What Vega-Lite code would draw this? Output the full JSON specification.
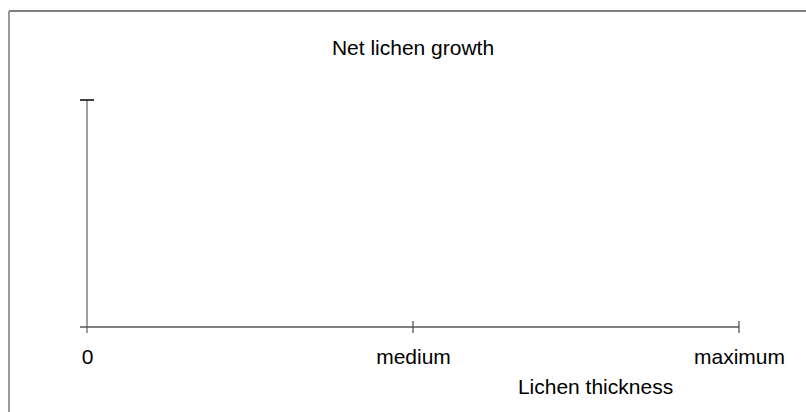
{
  "$schema": "https://vega.github.io/schema/vega-lite/v6.json",
  "width": 652,
  "height": 227,
  "autosize": "none",
  "padding": {"left": 87, "top": 100, "right": 67, "bottom": 85},
  "background": "white",
  "config": {"view": {"stroke": null}, "font": "Liberation Sans"},
  "title": {"text": "Net lichen growth", "anchor": "middle", "frame": "group", "fontSize": 21, "fontWeight": "normal", "font": "Liberation Sans", "color": "black", "baseline": "alphabetic", "offset": 0, "dy": 66},
  "datasets": {
    "parts": [
      {"part": "y axis", "x": 0, "x2": 0, "y": 0, "y2": 1},
      {"part": "x axis", "x": -0.0215, "x2": 2, "y": 0, "y2": 0},
      {"part": "tick zero", "x": 0, "x2": 0, "y": 0, "y2": -0.0264},
      {"part": "tick", "x": 1, "x2": 1, "y": 0.0264, "y2": -0.0264},
      {"part": "tick", "x": 2, "x2": 2, "y": 0.0264, "y2": -0.0264},
      {"part": "top tick", "x": -0.0215, "x2": 0.0215, "y": 1, "y2": 1},
      {"part": "frame top", "x": -0.2393, "x2": 2.21, "y": 1.392, "y2": 1.392},
      {"part": "frame left", "x": -0.2393, "x2": -0.2393, "y": 1.392, "y2": -0.4}
    ]
  },
  "data": {"name": "parts"},
  "encoding": {
    "x": {"field": "x", "type": "quantitative", "scale": {"domain": [0, 2], "nice": false, "zero": false},
      "axis": {"values": [0, 1, 2], "labelExpr": "datum.value == 0 ? '0' : datum.value == 1 ? 'medium' : 'maximum'", "domain": false, "ticks": false, "grid": false, "labelFontSize": 21, "labelFont": "Liberation Sans", "labelColor": "black", "labelPadding": 19, "labelFlush": false, "labelOverlap": false,
        "title": "Lichen thickness", "titleFontSize": 21, "titleFontWeight": "normal", "titleFont": "Liberation Sans", "titleColor": "black", "titleX": 508, "titleY": 66, "titleBaseline": "alphabetic", "titleAnchor": "middle", "titleAlign": "center"}},
    "x2": {"field": "x2"},
    "y": {"field": "y", "type": "quantitative", "scale": {"domain": [0, 1], "nice": false, "zero": false}, "axis": null},
    "y2": {"field": "y2"}
  },
  "layer": [
    {"transform": [{"filter": "datum.part == 'y axis' || datum.part == 'tick zero'"}], "mark": {"type": "rule", "color": "#a0a0a0", "strokeWidth": 2, "clip": false}},
    {"transform": [{"filter": "datum.part == 'x axis' || datum.part == 'tick'"}], "mark": {"type": "rule", "color": "#555555", "strokeWidth": 1.3, "clip": false}},
    {"transform": [{"filter": "datum.part == 'top tick'"}], "mark": {"type": "rule", "color": "#000000", "strokeWidth": 1.5, "clip": false}},
    {"transform": [{"filter": "datum.part == 'frame top'"}], "mark": {"type": "rule", "color": "#555555", "strokeWidth": 1.5, "clip": false}},
    {"transform": [{"filter": "datum.part == 'frame left'"}], "mark": {"type": "rule", "color": "#999999", "strokeWidth": 2, "clip": false}}
  ]
}
